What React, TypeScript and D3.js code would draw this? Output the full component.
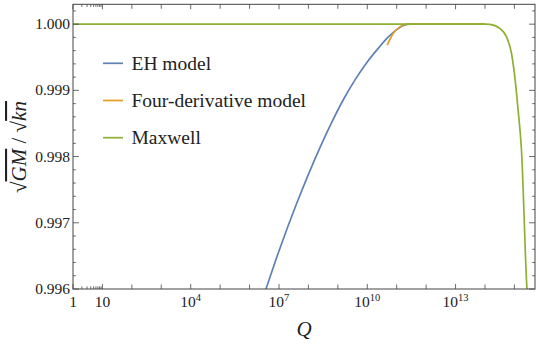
import React from "react";
import * as d3 from "d3";

// log10(Q) and value readings
const ehLogQ = [6.4, 6.556, 7.0, 7.6, 8.0, 8.4, 8.8, 9.2, 9.6, 10.0, 10.4, 10.7, 11.0, 11.2, 11.4, 14.0];
const ehVal = [0.9958, 0.996, 0.996575, 0.997291, 0.997732, 0.998144, 0.998524, 0.99887, 0.99917, 0.99943, 0.99965, 0.9998, 0.999918, 0.999975, 1.0, 1.0];

const fdLogQ = [10.676, 10.88, 11.107, 11.277, 11.6, 14.0];
const fdVal = [0.999683, 0.99986, 0.999959, 0.999995, 1.0, 1.0];

const mxLogQ = [0, 14.0, 14.164, 14.504, 14.732, 14.902, 15.014, 15.126, 15.241, 15.411, 15.45];
const mxVal = [1.0, 1.0, 0.999998, 0.999935, 0.999808, 0.999557, 0.999204, 0.998701, 0.998097, 0.996133, 0.9958];

const seriesNames = ["EH model", "Four-derivative model", "Maxwell"];
const seriesColors = ["#5E81B5", "#E19C24", "#8FB032"];

const yMajor = [0.996, 0.997, 0.998, 0.999, 1.0];
const xLabeled = [0, 1, 4, 7, 10, 13];

const W = 540, H = 345;
const L = 73, R = 535, T = 4.3, B = 289;

export default function App() {
  const x = d3.scaleLog().domain([1, Math.pow(10, 15.7)]).range([L, R]);
  const y = d3.scaleLinear().domain([0.996, 1.0003]).range([B, T]);

  const mk = (lq: number[], v: number[]) =>
    lq.map((q, i) => [x(Math.pow(10, q)), y(v[i])] as [number, number]);
  const line = d3.line<[number, number]>().curve(d3.curveMonotoneX);
  const series = [mk(ehLogQ, ehVal), mk(fdLogQ, fdVal), mk(mxLogQ, mxVal)];

  const frame = "#444";
  const ff = { fontFamily: '"Liberation Serif", "DejaVu Serif", serif' };

  const xTicks: { px: number; len: number }[] = [];
  for (let d = 0; d <= 15; d++) {
    xTicks.push({ px: x(Math.pow(10, d)), len: xLabeled.includes(d) ? 5 : 4.5 });
  }
  for (let k = 2; k <= 9; k++) xTicks.push({ px: x(k), len: 2.6 });

  const yTicks: { py: number; len: number }[] = [];
  for (let i = 0; i <= 21; i++) {
    const v = 0.996 + i * 0.0002;
    if (v > 1.00031) break;
    const major = i % 5 === 0;
    yTicks.push({ py: y(v), len: major ? 6 : 2.8 });
  }

  return (
    <svg width={W} height={H} style={{ position: "absolute", left: 0, top: 0 }}>
      <rect x={0} y={0} width={W} height={H} fill="#fff" />
      <defs>
        <clipPath id="plot">
          <rect x={L} y={T} width={R - L} height={B - T} />
        </clipPath>
      </defs>
      <g clipPath="url(#plot)">
        {series.map((pts, i) => (
          <path key={i} d={line(pts) || ""} fill="none" stroke={seriesColors[i]} strokeWidth={1.7} />
        ))}
      </g>
      <rect x={L} y={T} width={R - L} height={B - T} fill="none" stroke={frame} strokeWidth={1} />
      {xTicks.map((t, i) => (
        <g key={"xt" + i}>
          <line x1={t.px} x2={t.px} y1={B} y2={B - t.len} stroke={frame} strokeWidth={0.8} />
          <line x1={t.px} x2={t.px} y1={T} y2={T + t.len} stroke={frame} strokeWidth={0.8} />
        </g>
      ))}
      {yTicks.map((t, i) => (
        <g key={"yt" + i}>
          <line x1={L} x2={L + t.len} y1={t.py} y2={t.py} stroke={frame} strokeWidth={0.8} />
          <line x1={R} x2={R - t.len} y1={t.py} y2={t.py} stroke={frame} strokeWidth={0.8} />
        </g>
      ))}
      {yMajor.map((v) => (
        <text key={"yl" + v} x={70} y={y(v) + 5} textAnchor="end" fontSize={15.5} fill="#222" style={ff}>
          {v.toFixed(3)}
        </text>
      ))}
      {xLabeled.map((d) => (
        <text key={"xl" + d} x={x(Math.pow(10, d))} y={307} textAnchor="middle" fontSize={15.5} fill="#222" style={ff}>
          {d === 0 ? "1" : d === 1 ? "10" : (
            <>
              <tspan>10</tspan>
              <tspan dy={-6} fontSize={10.5}>{d}</tspan>
            </>
          )}
        </text>
      ))}
      <text x={(L + R) / 2} y={336} textAnchor="middle" fontSize={21} fontStyle="italic" fill="#222" style={ff}>Q</text>
      <text transform={`translate(26,147) rotate(-90)`} textAnchor="middle" fontSize={21} fill="#222" style={ff}>
        <tspan>√</tspan>
        <tspan fontStyle="italic" style={{ textDecoration: "overline" }}>GM</tspan>
        <tspan> / </tspan>
        <tspan>√</tspan>
        <tspan fontStyle="italic" style={{ textDecoration: "overline" }}>kn</tspan>
      </text>
      {seriesNames.map((n, i) => {
        const ly = 63.3 + i * 37.2;
        return (
          <g key={"lg" + i}>
            <line x1={103} x2={123} y1={ly} y2={ly} stroke={seriesColors[i]} strokeWidth={1.7} />
            <text x={131.5} y={ly + 6.5} fontSize={19.5} fill="#222" style={ff}>{n}</text>
          </g>
        );
      })}
    </svg>
  );
}
